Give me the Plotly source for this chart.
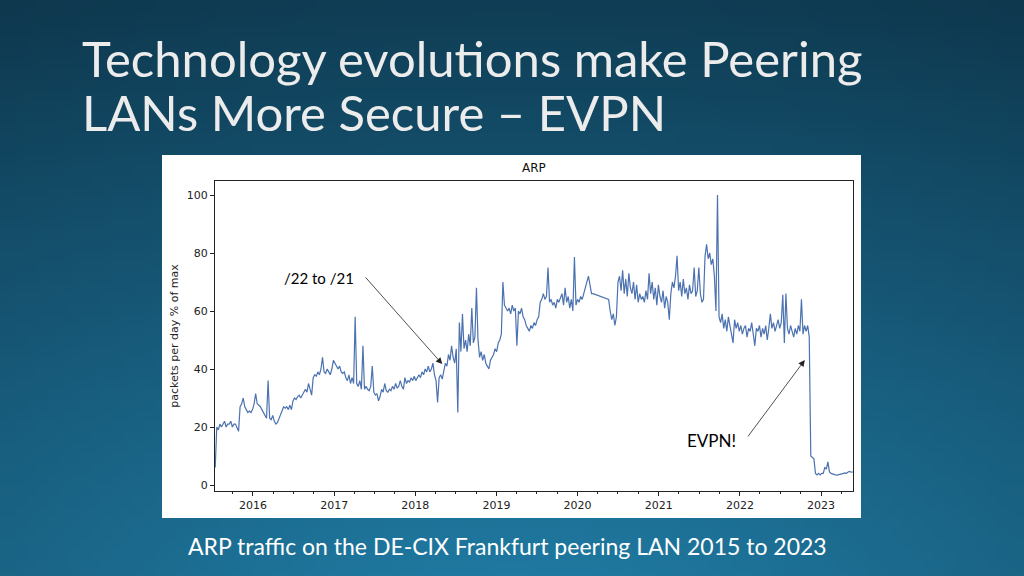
import zlib, struct, base64
import pandas as pd
import plotly.graph_objects as go

# ---------------- data (weekly readings, % of max) ----------------
# each block: (first week start date, values)
seg_2015a = ("2015-07-15", [6, 20, 19, 21, 20, 21, 22, 20, 21, 21, 22, 20, 21, 21, 20, 18.5])
seg_2015b = ("2015-11-04", [27, 28, 30, 27, 26, 25, 25.5, 25, 26])
seg_2016a = ("2016-01-06", [28, 31.5, 28, 27.5, 27, 26, 25, 23.5, 23, 36, 23, 22.5, 24, 22, 21])
seg_2016b = ("2016-04-20", [21.5, 23, 24.5, 26, 27, 26.5, 27, 26, 27.5, 26, 29, 30, 29.5, 30.5,
                            31, 30, 31, 32, 33, 32, 35, 33, 31, 37])
seg_2016c = ("2016-10-05", [38, 37.5, 39, 38, 40, 44, 39, 38.5, 40, 39, 38, 40, 43, 42])
seg_2017a = ("2017-01-11", [41, 40, 41, 39, 38.5, 39, 37, 36, 38, 35, 37, 35, 58, 35, 34, 36, 33, 48,
                            33, 34, 33, 32.5, 34, 41, 32, 31, 31.5, 29, 30.5])
seg_2017b = ("2017-08-02", [33, 32, 35, 32.5, 32, 33, 32.5, 34, 33, 35, 33.5, 34, 36, 34, 33, 37, 35,
                            36, 35.5, 37, 36, 37.5, 36])
seg_2018a = ("2018-01-10", [37, 38, 37, 39, 38, 40, 39, 41, 39, 40, 42, 38, 36, 28.5, 37, 38, 36.5,
                            40, 42, 41, 45, 43, 48, 44, 42, 47])
seg_2018b = ("2018-07-11", [25, 56, 46, 59, 47, 50, 46, 52, 48, 61, 49, 51, 68, 50, 44, 46, 43, 45,
                            42, 41, 40, 43, 44, 45, 47, 46, 49, 50, 52])
seg_2019 = ("2019-01-30", [70, 62, 61, 60, 61, 59, 62, 60, 61, 48, 60, 59, 61, 58, 57, 55, 54, 53,
                           55, 54, 56, 55, 57, 58, 63, 64, 66, 64, 65, 75, 63, 64, 62, 63, 61, 64,
                           63, 65])
seg_2020a = ("2019-10-23", [66, 62, 68, 63, 65, 61, 64, 60, 78.6, 62, 64, 63, 65, 64, 66, 68, 70,
                            72, 69, 66, 66])
seg_2020b = ("2020-05-20", [64, 60, 57, 59, 55, 58, 70, 72, 67, 74, 66, 71, 65, 73, 68, 66, 70,
                            64, 69, 63, 66, 64, 65, 63, 67, 64, 73, 66])
seg_2021 = ("2020-12-02", [70, 64, 68, 62, 69, 65, 63, 67, 61, 65, 63, 57, 66, 70, 68, 72, 79, 67,
                           70, 65, 71, 66, 68, 64, 69, 66, 67, 75, 65, 67, 75, 66, 63, 64, 79, 83,
                           78, 80, 76, 78, 72, 60, 100])
seg_2022 = ("2021-09-29", [58, 56, 59, 54, 57, 53, 58, 55, 52, 49, 57, 54, 56, 53, 55, 52, 54, 55,
                           51, 54, 53, 56, 52, 48, 54, 53, 55, 51, 54, 52, 55, 50, 54, 59, 54, 56,
                           53, 55, 57, 54, 56, 65.6, 49, 66, 54, 52, 55, 53, 51, 54, 52, 55, 53, 64,
                           52, 55, 53, 55, 51])
seg_2023 = ("2022-11-16", [10, 9.5, 9, 4, 3.5, 4, 3.5, 4, 4, 6, 5.5, 8, 4.5, 4, 3.8, 3.5, 3.5, 3.4,
                           3.5, 3.6, 3.8, 4, 4.2, 4, 4.5, 4.7, 4.4, 4.5])

segments = [seg_2015a, seg_2015b, seg_2016a, seg_2016b, seg_2016c, seg_2017a, seg_2017b,
            seg_2018a, seg_2018b, seg_2019, seg_2020a, seg_2020b, seg_2021, seg_2022, seg_2023]

dates, values = [], []
for start, vals in segments:
    dates.extend(pd.date_range(start, periods=len(vals), freq="7D"))
    values.extend(vals)

y_ticks = [0, 20, 40, 60, 80, 100]

# ---------------- background gradient image ----------------
def make_png(w, h):
    rows = []
    for j in range(h):
        v = j / (h - 1)
        row = bytearray()
        for i in range(w):
            u = i / (w - 1)
            d = ((u - 0.5) ** 2 * 0.9 + (v - 1.15) ** 2) ** 0.5
            t = max(0.0, min(1.0, 1.0 - d / 1.25))
            top = (14, 56, 78)
            bot = (34, 130, 172)
            for c in range(3):
                row.append(int(top[c] + (bot[c] - top[c]) * t))
        rows.append(b"\x00" + bytes(row))
    raw = b"".join(rows)

    def chunk(tag, data):
        return (struct.pack(">I", len(data)) + tag + data +
                struct.pack(">I", zlib.crc32(tag + data) & 0xffffffff))
    return (b"\x89PNG\r\n\x1a\n" +
            chunk(b"IHDR", struct.pack(">IIBBBBB", w, h, 8, 2, 0, 0, 0)) +
            chunk(b"IDAT", zlib.compress(raw)) + chunk(b"IEND", b""))

bg_src = "data:image/png;base64," + base64.b64encode(make_png(96, 54)).decode()

# ---------------- figure ----------------
W, H = 1024, 576
L, R, T, B = 215, 853, 181, 491
pw, ph = R - L, B - T

def px(x):
    return (x - L) / pw

def py(y):
    return (B - y) / ph

fig = go.Figure()
fig.add_trace(go.Scatter(x=dates, y=values, mode="lines",
                         line=dict(color="#4c72b0", width=1.2), hoverinfo="skip"))

axis_common = dict(showline=True, mirror=True, linecolor="#222", linewidth=1,
                   ticks="outside", ticklen=4, tickwidth=1, tickcolor="#222",
                   showgrid=False, zeroline=False,
                   tickfont=dict(family="DejaVu Sans", size=11, color="#222"))

fig.update_xaxes(type="date", range=["2015-07-14", "2023-05-25"], dtick="M12",
                 tickformat="%Y", minor=dict(dtick="M3", ticks="outside", ticklen=2,
                                             tickcolor="#222", tickwidth=1),
                 **axis_common)
fig.update_yaxes(range=[-2.07, 104.83], tickvals=y_ticks,
                 title=dict(text="packets per day % of max", standoff=5,
                            font=dict(family="DejaVu Sans", size=11, color="#222")),
                 **axis_common)

fig.update_layout(
    width=W, height=H,
    margin=dict(l=L, r=W - R, t=T, b=H - B),
    paper_bgcolor="#135070", plot_bgcolor="white",
    showlegend=False,
    images=[dict(source=bg_src, xref="paper", yref="paper",
                 x=px(0), y=py(0), sizex=W / pw, sizey=H / ph,
                 xanchor="left", yanchor="top", sizing="stretch", layer="below")],
    shapes=[dict(type="rect", xref="paper", yref="paper",
                 x0=px(162), x1=px(861), y0=py(518), y1=py(155),
                 fillcolor="white", line=dict(width=0), layer="below")],
)

ann = []
# slide title
ann.append(dict(text="Technology evolutions make Peering", xref="paper", yref="paper",
                x=px(80), y=py(58), xanchor="left", yanchor="middle", showarrow=False,
                font=dict(family="Lato", size=49, color="#ececec")))
ann.append(dict(text="LANs More Secure – EVPN", xref="paper", yref="paper",
                x=px(80), y=py(112), xanchor="left", yanchor="middle", showarrow=False,
                font=dict(family="Lato", size=49, color="#ececec")))
# caption
ann.append(dict(text="ARP traffic on the DE-CIX Frankfurt peering LAN 2015 to 2023",
                xref="paper", yref="paper", x=px(507), y=py(546), xanchor="center",
                yanchor="middle", showarrow=False,
                font=dict(family="Lato", size=23, color="white")))
# chart title
ann.append(dict(text="ARP", xref="paper", yref="paper", x=0.5, y=1, yanchor="bottom",
                yshift=4, showarrow=False,
                font=dict(family="DejaVu Sans", size=12, color="#111")))
# annotation texts
ann.append(dict(text="/22 to /21", x="2016-10-25", y=71.4, xref="x", yref="y",
                showarrow=False, font=dict(family="Lato", size=15, color="black")))
ann.append(dict(text="EVPN!", x="2021-08-27", y=15.5, xref="x", yref="y",
                showarrow=False, font=dict(family="Lato", size=17, color="black")))
# arrows
ann.append(dict(text="", x="2018-05-02", y=41.7, ax="2017-05-16", ay=72.1,
                xref="x", yref="y", axref="x", ayref="y", showarrow=True,
                arrowhead=2, arrowsize=1.6, arrowwidth=0.8, arrowcolor="#222"))
ann.append(dict(text="", x="2022-10-20", y=43.1, ax="2022-02-01", ay=16.2,
                xref="x", yref="y", axref="x", ayref="y", showarrow=True,
                arrowhead=2, arrowsize=1.6, arrowwidth=0.8, arrowcolor="#222"))
fig.update_layout(annotations=ann)

fig.write_html("out.html", config={"displayModeBar": False},
               post_script="document.body.style.margin='0';")
